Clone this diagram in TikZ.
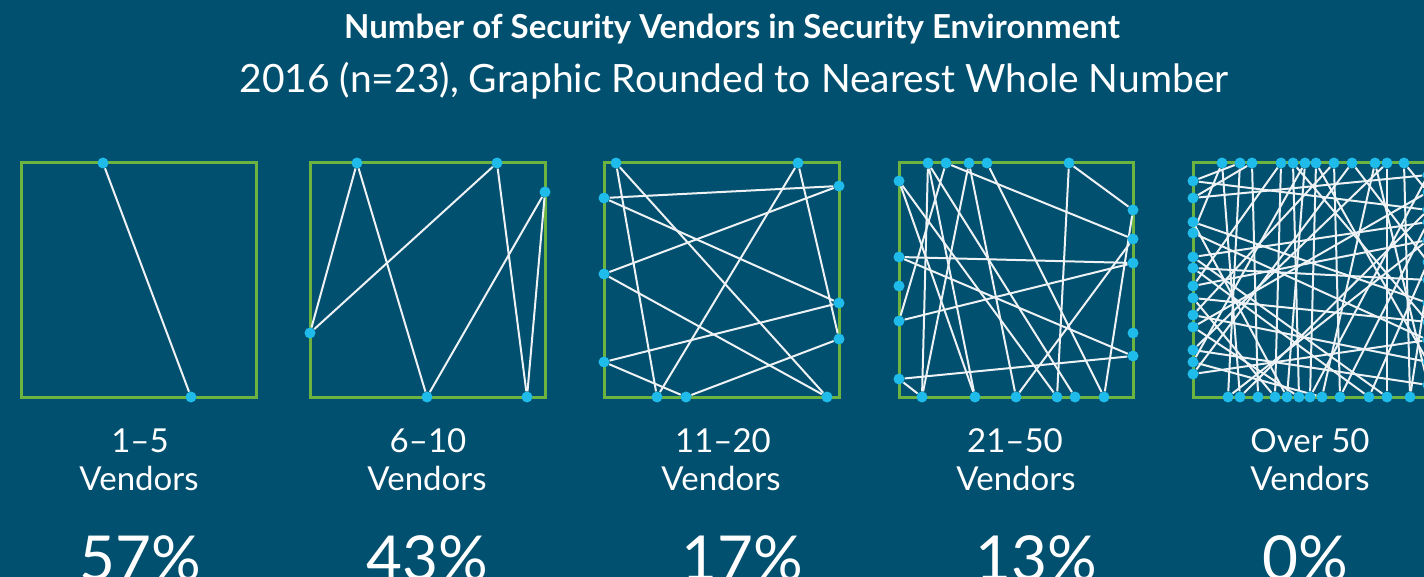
\documentclass[tikz,border=0pt]{standalone}
\usepackage{fontspec}
\setmainfont{Lato}
\usetikzlibrary{backgrounds}
\definecolor{bgblue}{HTML}{02506F}
\definecolor{framegreen}{HTML}{6CB33F}
\definecolor{dotblue}{HTML}{1FBBEA}
\definecolor{linewhite}{HTML}{EEF2F4}
\begin{document}
\begin{tikzpicture}[x=1pt, y=-1pt,
  dot/.style={circle, fill=dotblue, inner sep=0pt, minimum size=11pt},
  link/.style={draw=linewhite, line width=2pt},
  frame/.style={draw=framegreen, line width=3pt},
  caption/.style={text=white, anchor=base, font=\fontsize{33}{38}\selectfont},
  share/.style={text=white, anchor=base, font=\fontsize{62}{62}\selectfont}]

\useasboundingbox (0,0) rectangle (1424,577);

% headings
\node[text=white, anchor=base, font=\bfseries\fontsize{33}{36}\selectfont] (title) at (732,39) {Number of Security Vendors in Security Environment};
\node[text=white, anchor=base, font=\fontsize{39}{42}\selectfont] (subtitle) at (734,93) {2016 (n=23), Graphic Rounded to Nearest Whole Number};

% 1-5
\node[dot] (d1_t1) at (103,163) {};
\node[dot] (d1_b1) at (191,397) {};

% 6-10
\node[dot] (d2_t1) at (357,163) {};
\node[dot] (d2_t2) at (497,163) {};
\node[dot] (d2_r1) at (545,192) {};
\node[dot] (d2_l1) at (310,333) {};
\node[dot] (d2_b1) at (427,397) {};
\node[dot] (d2_b2) at (527,397) {};

% 11-20
\node[dot] (d3_t1) at (616,163) {};
\node[dot] (d3_t2) at (798,163) {};
\node[dot] (d3_r1) at (839,186) {};
\node[dot] (d3_r2) at (839,303) {};
\node[dot] (d3_r3) at (839,339) {};
\node[dot] (d3_l1) at (604,198) {};
\node[dot] (d3_l2) at (604,274) {};
\node[dot] (d3_l3) at (604,362) {};
\node[dot] (d3_b1) at (657,397) {};
\node[dot] (d3_b2) at (686,397) {};
\node[dot] (d3_b3) at (827,397) {};

% 21-50
\foreach \n/\x in {1/928, 2/946, 3/969, 4/987, 5/1069}
  \node[dot] (d4_t\n) at (\x,163) {};
\foreach \n/\y in {1/181, 2/257, 3/286, 4/321, 5/379}
  \node[dot] (d4_l\n) at (899,\y) {};
\foreach \n/\y in {1/210, 2/239, 3/263, 4/333, 5/356}
  \node[dot] (d4_r\n) at (1133,\y) {};
\foreach \n/\x in {1/922, 2/975, 3/1016, 4/1057, 5/1075, 6/1104}
  \node[dot] (d4_b\n) at (\x,397) {};

% over 50
\foreach \n/\x in {1/1222, 2/1240, 3/1252, 4/1281, 5/1293, 6/1305, 7/1316, 8/1334, 9/1352, 10/1375, 11/1387, 12/1404}
  \node[dot] (d5_t\n) at (\x,163) {};
\foreach \n/\y in {1/181, 2/198, 3/222, 4/233, 5/257, 6/268, 7/286, 8/298, 9/315, 10/327, 11/350, 12/362, 13/374}
  \node[dot] (d5_l\n) at (1193,\y) {};
\foreach \n/\y in {1/175, 2/192, 3/210, 4/222, 5/240, 6/262, 7/280, 8/303, 9/322, 10/340, 11/362, 12/385}
  \node[dot] (d5_r\n) at (1428,\y) {};
\foreach \n/\x in {1/1228, 2/1240, 3/1258, 4/1275, 5/1287, 6/1299, 7/1310, 8/1322, 9/1340, 10/1369, 11/1387, 12/1410}
  \node[dot] (d5_b\n) at (\x,397) {};

\begin{scope}[on background layer]
  \fill[bgblue] (0,0) rectangle (1424,577);
  \draw[frame] (21,163) rectangle (256,397);
  \draw[frame] (310,163) rectangle (545,397);
  \draw[frame] (604,163) rectangle (839,397);
  \draw[frame] (899,163) rectangle (1133,397);
  \draw[frame] (1193,163) rectangle (1428,397);

  \draw[link] (d1_t1) -- (d1_b1);

  \foreach \a/\b in {d2_l1/d2_t1, d2_t1/d2_b1, d2_l1/d2_t2, d2_t2/d2_b2, d2_r1/d2_b1, d2_r1/d2_b2}
    \draw[link] (\a) -- (\b);

  \foreach \a/\b in {d3_t1/d3_b1, d3_t1/d3_b3, d3_t2/d3_b1, d3_t2/d3_r3, d3_l1/d3_r1, d3_l1/d3_r2,
                     d3_l2/d3_r1, d3_l2/d3_b3, d3_l3/d3_r2, d3_l3/d3_b2, d3_b2/d3_r3}
    \draw[link] (\a) -- (\b);

  \foreach \a/\b in {d4_t1/d4_b1, d4_t1/d4_b2, d4_t1/d4_b5, d4_t2/d4_r2, d4_t2/d4_l4, d4_t3/d4_b1,
                     d4_t3/d4_b3, d4_t4/d4_b6, d4_t5/d4_r1, d4_t5/d4_b4, d4_r1/d4_b6, d4_r2/d4_b3,
                     d4_l1/d4_b2, d4_l1/d4_b4, d4_l2/d4_r3, d4_l2/d4_r5, d4_l4/d4_r3, d4_l5/d4_r5,
                     d4_l5/d4_b1}
    \draw[link] (\a) -- (\b);

  \foreach \a/\b in {t1/b2, t1/l4, t2/b1, t2/l1, t3/b3, t3/l2, t4/b4, t4/l7, t5/b6, t5/r9,
                     t6/b5, t6/l12, t7/b7, t7/r11, t8/b9, t8/l9, t9/l13, t9/r6, t10/b8, t10/r12,
                     t11/b11, t11/l11, t12/b12, t12/r2, l1/r3, l2/r1, l3/r8, l4/r10, l5/r4, l6/r7,
                     l6/b10, l7/r5, l8/r9, l8/b4, l9/r11, l10/b6, l10/r2, l11/r12, l12/b8, l13/r10,
                     l3/b5, l5/b11, b1/r5, b2/r3, b7/r1, b9/r4, b10/r6, b12/r7}
    \draw[link] (d5_\a) -- (d5_\b);
\end{scope}

% captions
\node[caption] (range_1) at (140,452) {1–5};
\node[caption] (range_2) at (428,452) {6–10};
\node[caption] (range_3) at (723,452) {11–20};
\node[caption] (range_4) at (1015,452) {21–50};
\node[caption] (range_5) at (1310,452) {Over 50};
\foreach \i/\x in {1/139, 2/427, 3/721, 4/1016, 5/1310}
  \node[caption] (vendors_\i) at (\x,490) {Vendors};

\node[share] (share_1) at (140,580) {57\%};
\node[share] (share_2) at (427,580) {43\%};
\node[share] (share_3) at (742,580) {17\%};
\node[share] (share_4) at (1036,580) {13\%};
\node[share] (share_5) at (1305,580) {0\%};
\end{tikzpicture}
\end{document}
